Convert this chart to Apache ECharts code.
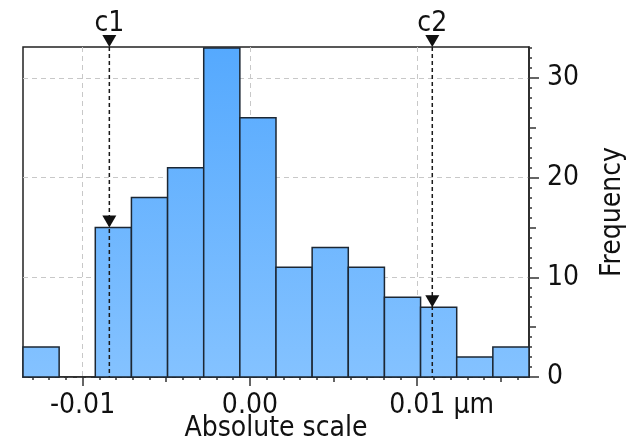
<!DOCTYPE html>
<html>
<head>
<meta charset="utf-8">
<script src="https://cdn.jsdelivr.net/npm/echarts@6/dist/echarts.min.js"></script>
<style>
  html, body { margin: 0; padding: 0; background: #fff; }
  #chart { width: 628px; height: 447px; }
</style>
</head>
<body>
<div id="chart"></div>
<script>
// histogram bins: edges and counts
const binEdges = [-0.01356, -0.01140, -0.00924, -0.00708, -0.00492, -0.00276, -0.00060,
  0.00156, 0.00372, 0.00588, 0.00804, 0.01020, 0.01236, 0.01452, 0.01668]
const binCounts = [3, 0, 15, 18, 21, 33, 26, 11, 13, 11, 8, 7, 2, 3]

// cursors
const cursorNames = ['c1', 'c2']
const cursorX = [-0.0084, 0.0109]
const cursorY = [15, 7]

// axes
const xMin = -0.01356
const xMax = 0.01668
const yMin = 0
const yMax = 33.1
const xTickValues = [-0.01, 0, 0.01]
const xTickLabels = ['-0.01', '0.00', '0.01']
const xMidTicks = [-0.005, 0.005, 0.015]
const xMinorTicks = [-0.013, -0.012, -0.011, -0.009, -0.008, -0.007, -0.006, -0.004, -0.003,
  -0.002, -0.001, 0.001, 0.002, 0.003, 0.004, 0.006, 0.007, 0.008, 0.009, 0.011, 0.012,
  0.013, 0.014, 0.016]
const yTickValues = [0, 10, 20, 30]
const yTickLabels = ['0', '10', '20', '30']
const yMidTicks = [5, 15, 25]
const yMinorTicks = []
for (let v = 1; v <= 33; v++) if (v % 5) yMinorTicks.push(v)

const FONT = '"DejaVu Sans Condensed", "DejaVu Sans"'
const FS = 28
const ink = '#111'

const histData = binCounts.map((c, i) => [binEdges[i], binEdges[i + 1], c])
const cursorData = cursorNames.map((n, i) => [cursorX[i], cursorY[i], n])

const barFill = new echarts.graphic.LinearGradient(0, 47, 0, 377, [
  { offset: 0, color: '#55a9fe' },
  { offset: 1, color: '#84c2ff' }
], true)

const tickAxisX = (values, len) => ({
  type: 'value', min: xMin, max: xMax, position: 'bottom',
  axisLine: { show: false, onZero: false },
  axisTick: { show: true, length: len, customValues: values, lineStyle: { color: '#333', width: 1.5 } },
  axisLabel: { show: false },
  splitLine: { show: false }
})
const tickAxisY = (values, len) => ({
  type: 'value', min: yMin, max: yMax, position: 'right', offset: 0,
  axisLine: { show: false, onZero: false },
  axisTick: { show: true, length: len, customValues: values, lineStyle: { color: '#333', width: 1.5 } },
  axisLabel: { show: false },
  splitLine: { show: false }
})

const renderBin = (params, api) => {
  const p0 = api.coord([api.value(0), api.value(2)])
  const p1 = api.coord([api.value(1), 0])
  if (api.value(2) <= 0) return null
  return {
    type: 'rect',
    shape: { x: p0[0], y: p0[1], width: p1[0] - p0[0], height: p1[1] - p0[1] },
    style: { fill: barFill, stroke: '#1c2733', lineWidth: 1.5 }
  }
}

const renderCursor = (params, api) => {
  const top = api.coord([api.value(0), yMax])
  const hit = api.coord([api.value(0), api.value(1)])
  const base = api.coord([api.value(0), 0])
  const x = top[0]
  return {
    type: 'group',
    children: [
      { type: 'line', shape: { x1: x, y1: top[1], x2: x, y2: base[1] },
        style: { stroke: '#1a1a1a', lineWidth: 1.5, lineDash: [4, 3] } },
      { type: 'polygon', shape: { points: [[x - 7, top[1] - 12], [x + 7, top[1] - 12], [x, top[1]]] },
        style: { fill: '#111' } },
      { type: 'polygon', shape: { points: [[x - 7, hit[1] - 12], [x + 7, hit[1] - 12], [x, hit[1]]] },
        style: { fill: '#111' } },
      { type: 'text', x: x, y: top[1] - 9,
        style: { text: api.value(2), fill: ink, font: FS + 'px ' + FONT, align: 'center', verticalAlign: 'bottom' } }
    ]
  }
}

const chart = echarts.init(document.getElementById('chart'))
chart.setOption({
  animation: false,
  backgroundColor: '#fff',
  grid: {
    left: 23, right: 99, top: 47, bottom: 70, containLabel: false, outerBoundsMode: 'none',
    show: true, borderColor: '#222', borderWidth: 1.5
  },
  xAxis: [
    {
      type: 'value', min: xMin, max: xMax, position: 'bottom',
      name: 'Absolute scale', nameLocation: 'middle', nameGap: 38, nameMoveOverlap: false,
      nameTextStyle: { fontFamily: FONT, fontSize: FS, color: ink },
      axisLine: { show: true, onZero: false, lineStyle: { color: '#222', width: 1.5 } },
      axisTick: { show: true, length: 9, customValues: xTickValues, lineStyle: { color: '#333', width: 1.5 } },
      axisLabel: {
        customValues: xTickValues, margin: 15, fontFamily: FONT, fontSize: FS, color: ink,
        formatter: v => {
          const i = xTickValues.findIndex(t => Math.abs(t - v) < 1e-9)
          const s = i >= 0 ? xTickLabels[i] : ''
          return i === xTickValues.length - 1 ? '{p|}{a|' + s + '}{u| µm}' : s
        },
        rich: {
          p: { width: 49 },
          a: { fontFamily: FONT, fontSize: FS, color: ink },
          u: { fontFamily: FONT, fontSize: FS, color: ink, width: 49 }
        }
      },
      splitLine: { show: true, lineStyle: { color: '#c8c8c8', type: [5, 4], width: 1 } }
    },
    tickAxisX(xMidTicks, 5),
    tickAxisX(xMinorTicks, 3)
  ],
  yAxis: [
    {
      type: 'value', min: yMin, max: yMax, position: 'right',
      name: 'Frequency', nameLocation: 'middle', nameGap: 70, nameRotate: 90, nameMoveOverlap: false,
      nameTextStyle: { fontFamily: FONT, fontSize: FS, color: ink },
      axisLine: { show: true, onZero: false, lineStyle: { color: '#222', width: 1.5 } },
      axisTick: { show: true, length: 10, customValues: yTickValues, lineStyle: { color: '#333', width: 1.5 } },
      axisLabel: {
        customValues: yTickValues, margin: 18, fontFamily: FONT, fontSize: FS, color: ink,
        formatter: v => {
          const i = yTickValues.indexOf(Math.round(v))
          return i >= 0 ? yTickLabels[i] : ''
        }
      },
      splitLine: { show: true, lineStyle: { color: '#c8c8c8', type: [5, 4], width: 1 } }
    },
    tickAxisY(yMidTicks, 7),
    tickAxisY(yMinorTicks, 3)
  ],
  series: [
    {
      type: 'custom', renderItem: renderBin, data: histData,
      encode: { x: [0, 1], y: 2 }, z: 3
    },
    {
      type: 'custom', renderItem: renderCursor, data: cursorData,
      encode: { x: 0, y: 1 }, z: 5, clip: false
    }
  ]
})
</script>
</body>
</html>
